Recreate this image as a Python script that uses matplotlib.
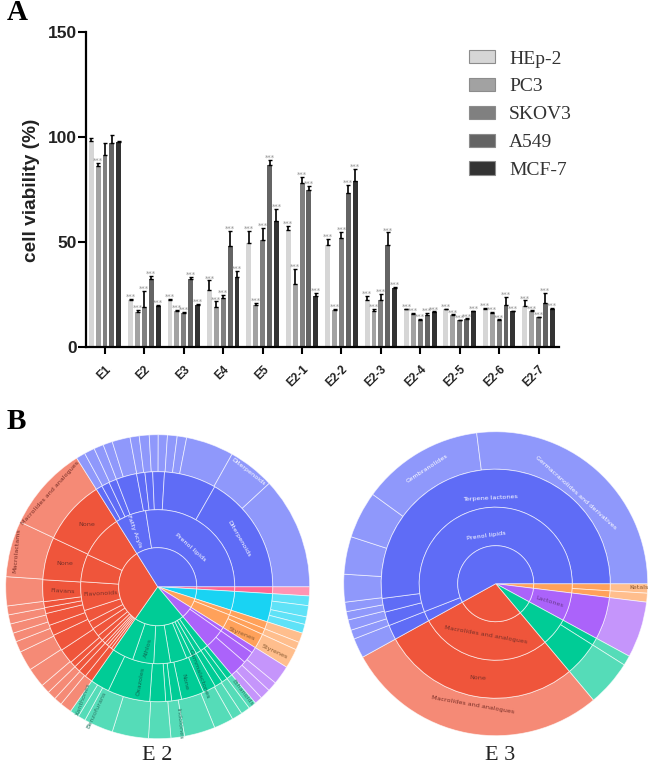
import matplotlib
matplotlib.use('Agg')
import matplotlib.pyplot as plt
from matplotlib.transforms import ScaledTranslation
import numpy as np

W, H = 650, 763

# ---- panel A values
compounds = ['E1', 'E2', 'E3', 'E4', 'E5', 'E2-1', 'E2-2', 'E2-3', 'E2-4', 'E2-5', 'E2-6', 'E2-7']
cell_lines = ['HEp-2', 'PC3', 'SKOV3', 'A549', 'MCF-7']

hep2 = [98, 22, 22, 27, 49.5, 55.5, 48.5, 22, 17.8, 17.8, 17.8, 19.4]
pc3 = [86, 16.5, 17, 19, 20, 30, 17.5, 16.7, 15.6, 15, 15.9, 16.7]
skov3 = [91.5, 19, 16, 23, 51, 78, 51.7, 22, 12.7, 12.6, 12.6, 14]
a549 = [97, 32, 32, 48, 86.5, 74.5, 73, 48.5, 14.8, 13.2, 19.7, 20.7]
mcf7 = [97.5, 19.5, 20, 33, 60, 24, 79, 27.8, 16.5, 16.7, 16.7, 18.1]

hep2_err = [1.5, 0.7, 0.7, 4.5, 5.5, 2, 2.9, 2.3, 0.3, 0.3, 0.4, 2.6]
pc3_err = [1.5, 1, 0.3, 2.5, 0.8, 7, 0.5, 1.3, 0.3, 0.3, 0.5, 0.5]
skov3_err = [5.5, 7.5, 0.3, 1.5, 5.5, 3, 3.1, 3, 0.3, 0.2, 0.3, 0.3]
a549_err = [4, 1.5, 1, 7, 2.5, 2, 4, 5.9, 1.4, 0.2, 4.1, 4.7]
mcf7_err = [0.3, 0.2, 0.3, 3, 5.5, 1.5, 5.6, 0.5, 0.2, 0.3, 0.3, 0.2]

# ---- panel B values, angular size of each sector in degrees, clockwise from east
e2_families = ['pink', 'cyan', 'orange', 'purple', 'green', 'red', 'blue']
e2_ring1 = [[3.5], [14.3], [14.2], [18], [75], [112.8], [122.2]]
e2_ring2 = [[3.5], [14.3], [3.7, 10.5], [3, 15],
            [6, 4, 4, 4, 12.5, 12.5, 16, 16],
            [2, 2, 2, 2, 3, 4.5, 6.5, 6, 9, 21.8, 20.8, 33.2],
            [23.2, 99]]
e2_ring3 = [[3.5], [14.3], [3.7, 3, 7.5], [3, 6, 9],
            [3, 3, 4, 6.5, 11.5, 5, 3, 8, 21.4, 9.6],
            [4, 4, 3, 3, 7.6, 8.4, 5.4, 6.1, 3, 3, 11, 21.5, 32.8],
            [3.2, 4, 4, 10.4, 4.2, 3.9, 5.9, 26.3, 60.3]]
e2_ring4 = [[3.5], [3.7, 4.3, 2.9, 3.4], [3.7, 3, 7.5], [7.3, 3.7, 4, 3],
            [3, 3.5, 4, 7.5, 11.8, 5.2, 8.5, 13.9, 11.2, 2.9, 3.5],
            [4.5, 3.1, 3.4, 3.5, 7.5, 7.6, 4.2, 3.4, 3.6, 3.5, 3.4, 11.1, 21.4, 32.6],
            [3.5, 4, 3.7, 3.6, 6.9, 3.5, 3.8, 3.4, 3.5, 3.7, 3.6, 18.3, 17.9, 42.8]]

e3_families = ['orange', 'purple', 'green', 'red', 'blue']
e3_ring1 = [[7], [21.5], [21.5], [101.1], [208.9]]
e3_ring2 = [[7], [21.5], [21.5], [101.1], [7.5, 201.4]]
e3_ring3 = [[3.6, 3.4], [21.5], [3.8, 17.7], [101.1], [7.5, 7, 7, 187.4]]
e3_ring4 = [[3.6, 3.4], [21.5], [3.8, 17.7], [101.1],
            [7.6, 3.5, 4, 3.2, 3.6, 10.6, 14.4, 18, 46.8, 97.2]]

# ---- styles
bar_colors = ['#d6d6d6', '#a2a2a2', '#808080', '#646464', '#333333']
dark = {'blue': '#5f6cf6', 'red': '#ef553b', 'green': '#00cc96', 'purple': '#ab63fa',
        'orange': '#ffa15a', 'cyan': '#19d3f3', 'pink': '#ff6692'}
light = {'blue': '#8f98fb', 'red': '#f58a76', 'green': '#55dcb8', 'purple': '#c595fb',
         'orange': '#ffbe8d', 'cyan': '#5fe2f7', 'pink': '#ff94b2'}

plt.rcParams['font.family'] = ['Liberation Sans', 'DejaVu Sans']
fig = plt.figure(figsize=(W / 100, H / 100), dpi=100)

# ---- panel A
ax = fig.add_axes([86 / W, 1 - 346.5 / H, 473 / W, 314.5 / H])
series = [hep2, pc3, skov3, a549, mcf7]
errs = [hep2_err, pc3_err, skov3_err, a549_err, mcf7_err]
x = np.arange(len(compounds))
step = 0.175
for i in range(5):
    xs = x + (i - 2) * step
    ax.bar(xs, series[i], width=0.125, color=bar_colors[i], label=cell_lines[i])
    low = np.zeros(len(xs))
    ax.errorbar(xs, series[i], yerr=[low, errs[i]], fmt='none', ecolor='black',
                elinewidth=1.2, capsize=1.3, capthick=1)
    for j in range(len(xs)):
        # E1 has stars only on PC3
        if j == 0 and i != 1:
            continue
        ax.text(xs[j], series[i][j] + errs[i][j] + 1.0, '***', color='#8f8f8f', fontsize=5,
                ha='center', va='center', family='DejaVu Sans')

ax.set_xlim(-0.482, 11.52)
ax.set_ylim(0, 150)
ax.set_yticks([0, 50, 100, 150])
ax.set_xticks(x)
ax.set_xticklabels(compounds, rotation=45, ha='right', rotation_mode='anchor',
                   fontsize=8.5, fontweight='bold', color='#222222')
shift = ScaledTranslation(-10 / 100, 0, fig.dpi_scale_trans)
for lab in ax.get_xticklabels():
    lab.set_transform(lab.get_transform() + shift)
for lab in ax.get_yticklabels():
    lab.set_fontsize(12.5)
    lab.set_fontweight('bold')
    lab.set_color('#222222')
ax.tick_params(axis='y', length=6, width=1.5, pad=0.5)
ax.tick_params(axis='x', length=5, width=1.5, pad=7)
for s in ['top', 'right']:
    ax.spines[s].set_visible(False)
for s in ['left', 'bottom']:
    ax.spines[s].set_linewidth(1.6)
fig.text(31.5 / W, 1 - 190 / H, 'cell viability (%)', rotation=90, fontsize=13.7, fontweight='bold',
         color='#222222', ha='center', va='center')

leg = ax.legend(loc='upper left', bbox_to_anchor=(469 / W, 1 - 50 / H), bbox_transform=fig.transFigure,
                frameon=False, prop={'family': 'Liberation Serif', 'size': 14},
                handlelength=1.34, handleheight=0.69, handletextpad=0.72, labelspacing=0.53,
                borderaxespad=0, borderpad=0)
for patch in leg.get_patches():
    patch.set_edgecolor('#8c8c8c')
    patch.set_linewidth(0.8)
for txt in leg.get_texts():
    txt.set_color('#333333')


# ---- panel B
def sunburst(cx, cy, families, rings, radii, labels):
    R = 156
    a = fig.add_axes([(cx - R) / W, 1 - (cy + R) / H, 2 * R / W, 2 * R / H])
    for k in range(3, -1, -1):
        sizes, cols = [], []
        palette = light if k == 3 else dark
        for fam, part in zip(families, rings[k]):
            sizes += part
            cols += [palette[fam]] * len(part)
        a.pie(sizes, radius=radii[k + 1], colors=cols, startangle=0, counterclock=False,
              wedgeprops=dict(width=radii[k + 1] - radii[k], edgecolor=(1, 1, 1, 0.65), linewidth=0.6))
    a.set_xlim(-R, R)
    a.set_ylim(-R, R)
    a.set_aspect('equal')
    a.axis('off')
    for text, dx, dy, rot, col in labels:
        a.text(dx, dy, text, rotation=rot, color=col, fontsize=4.6, ha='center', va='center',
               rotation_mode='anchor', family='DejaVu Sans')


e2_labels = [
    ('Prenol lipids', 33, 39, -42, 'white'),
    ('Fatty Acyls', -23, 55, -70, 'white'),
    ('Diterpenoids', 81, 48, -60, 'white'),
    ('Diterpenoids', 91, 115, -38, 'white'),
    ('None', -71, 62, 0, '#7a3028'),
    ('None', -93, 23, 0, '#7a3028'),
    ('Flavans', -95, -4, -3, '#7a3028'),
    ('Flavonoids', -57, -7, 3, '#7a3028'),
    ('Macrolides and analogues', -107, 94, 48, '#7a3028'),
    ('Macrolactams', -141, 36, 85, '#7a3028'),
    ('Athlos', -10, -61, 75, '#0f6a55'),
    ('Oxazoles', -17, -95, 80, '#0f6a55'),
    ('None', 27, -95, -78, '#0f6a55'),
    ('Gammalactones', 41, -87, -70, '#0f6a55'),
    ('Indolones', 22, -137, -85, '#2f7a68'),
    ('Xanthones', -74, -113, 70, '#2f7a68'),
    ('Benzofurans', -61, -123, 65, '#2f7a68'),
    ('Ethanoids', 85, -106, -52, '#2f7a68'),
    ('Styrenes', 84, -47, -22, '#8a5a30'),
    ('Styrenes', 117, -65, -25, '#8a5a30'),
]
e3_labels = [
    ('Germacranolides and derivatives', 80, 91, -42, 'white'),
    ('Cembranolides', -68, 115, 33, 'white'),
    ('Terpene lactones', -5, 86, 3, 'white'),
    ('Prenol lipids', -9, 48, 8, 'white'),
    ('Macrolides and analogues', -10, -51, -10, '#7a3028'),
    ('None', -18, -94, -3, '#7a3028'),
    ('Macrolides and analogues', -23, -121, -10, '#7a3028'),
    ('Lactones', 54, -18, -17, '#6a3a90'),
    ('Ketals', 143, -4, 0, '#8a5a30'),
]

sunburst(157.7, 586.7, e2_families, [e2_ring1, e2_ring2, e2_ring3, e2_ring4],
         [0, 39, 77, 115, 152], e2_labels)
sunburst(495.7, 583.7, e3_families, [e3_ring1, e3_ring2, e3_ring3, e3_ring4],
         [0, 38, 76.5, 114.5, 152], e3_labels)

# ---- panel letters and captions
fig.text(7 / W, 1 - 13 / H, 'A', fontsize=21, fontweight='bold', family='Liberation Serif', va='center')
fig.text(7 / W, 1 - 421 / H, 'B', fontsize=21, fontweight='bold', family='Liberation Serif', va='center')
fig.text(157 / W, 1 - 755 / H, 'E 2', fontsize=16, family='Liberation Serif', ha='center', va='center', color='#222222')
fig.text(500 / W, 1 - 755 / H, 'E 3', fontsize=16, family='Liberation Serif', ha='center', va='center', color='#222222')

fig.savefig('out.png', dpi=100)
